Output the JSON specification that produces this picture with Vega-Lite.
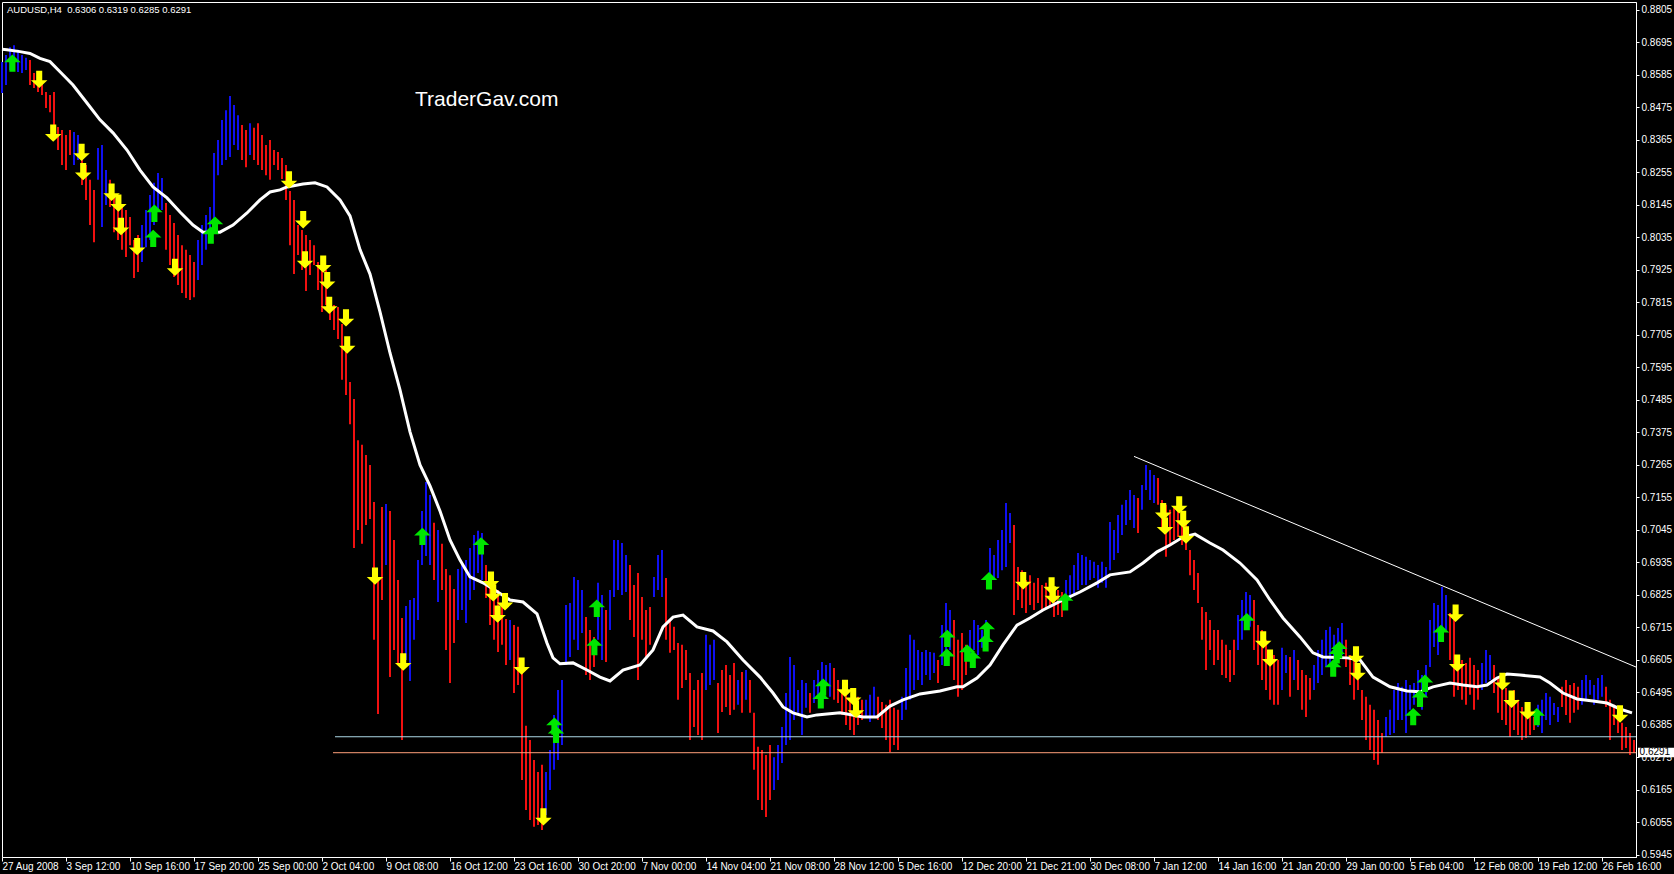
{
"$schema":"https://vega.github.io/schema/vega-lite/v6.json",
"width":1634,"height":855,
"autosize":{"type":"none"},
"padding":{"left":2,"top":2,"right":38,"bottom":17},
"background":"#000000",
"config":{"view":{"stroke":"#ffffff","strokeWidth":1},"axis":{"labelFont":"Liberation Sans","labelFontSize":10,"labelColor":"#ffffff","domainColor":"#ffffff","tickColor":"#ffffff","grid":false,"title":null,"labelOverlap":false,"labelFlush":false}},
"resolve":{"scale":{"color":"independent","shape":"independent"}},
"datasets":{
"bars":[
{"b":0,"hi":0.8629,"lo":0.8524,"t":"u"},{"b":1,"hi":0.8653,"lo":0.8551,"t":"u"},{"b":2,"hi":0.8679,"lo":0.8602,"t":"u"},{"b":3,"hi":0.8686,"lo":0.8609,"t":"u"},{"b":4,"hi":0.8670,"lo":0.8595,"t":"u"},{"b":5,"hi":0.8653,"lo":0.8592,"t":"u"},{"b":6,"hi":0.8643,"lo":0.8602,"t":"u"},{"b":7,"hi":0.8636,"lo":0.8551,"t":"d"},{"b":8,"hi":0.8592,"lo":0.8541,"t":"d"},{"b":9,"hi":0.8575,"lo":0.8527,"t":"d"},
{"b":10,"hi":0.8561,"lo":0.8517,"t":"d"},{"b":11,"hi":0.8527,"lo":0.8473,"t":"d"},{"b":12,"hi":0.8517,"lo":0.8459,"t":"d"},{"b":13,"hi":0.8527,"lo":0.8399,"t":"d"},{"b":14,"hi":0.8409,"lo":0.8331,"t":"d"},{"b":15,"hi":0.8399,"lo":0.8280,"t":"d"},{"b":16,"hi":0.8382,"lo":0.8263,"t":"d"},{"b":17,"hi":0.8399,"lo":0.8314,"t":"d"},{"b":18,"hi":0.8392,"lo":0.8280,"t":"u"},{"b":19,"hi":0.8382,"lo":0.8297,"t":"u"},
{"b":20,"hi":0.8314,"lo":0.8213,"t":"d"},{"b":21,"hi":0.8280,"lo":0.8162,"t":"d"},{"b":22,"hi":0.8230,"lo":0.8077,"t":"d"},{"b":23,"hi":0.8196,"lo":0.8019,"t":"d"},{"b":24,"hi":0.8338,"lo":0.8230,"t":"u"},{"b":25,"hi":0.8348,"lo":0.8070,"t":"u"},{"b":26,"hi":0.8263,"lo":0.8145,"t":"u"},{"b":27,"hi":0.8230,"lo":0.8138,"t":"d"},{"b":28,"hi":0.8172,"lo":0.8053,"t":"d"},{"b":29,"hi":0.8162,"lo":0.8026,"t":"d"},
{"b":30,"hi":0.8145,"lo":0.7993,"t":"d"},{"b":31,"hi":0.8128,"lo":0.7969,"t":"d"},{"b":32,"hi":0.8104,"lo":0.8009,"t":"d"},{"b":33,"hi":0.8026,"lo":0.7898,"t":"d"},{"b":34,"hi":0.8043,"lo":0.7918,"t":"d"},{"b":35,"hi":0.8077,"lo":0.7952,"t":"u"},{"b":36,"hi":0.8128,"lo":0.8002,"t":"u"},{"b":37,"hi":0.8179,"lo":0.8026,"t":"u"},{"b":38,"hi":0.8220,"lo":0.8077,"t":"u"},{"b":39,"hi":0.8253,"lo":0.8121,"t":"u"},
{"b":40,"hi":0.8236,"lo":0.8128,"t":"u"},{"b":41,"hi":0.8152,"lo":0.7993,"t":"d"},{"b":42,"hi":0.8111,"lo":0.7942,"t":"d"},{"b":43,"hi":0.8084,"lo":0.7901,"t":"d"},{"b":44,"hi":0.8043,"lo":0.7874,"t":"d"},{"b":45,"hi":0.8009,"lo":0.7847,"t":"d"},{"b":46,"hi":0.7993,"lo":0.7830,"t":"d"},{"b":47,"hi":0.7976,"lo":0.7823,"t":"d"},{"b":48,"hi":0.7952,"lo":0.7833,"t":"d"},{"b":49,"hi":0.8026,"lo":0.7891,"t":"u"},
{"b":50,"hi":0.8077,"lo":0.7942,"t":"u"},{"b":51,"hi":0.8111,"lo":0.7993,"t":"u"},{"b":52,"hi":0.8138,"lo":0.8026,"t":"u"},{"b":53,"hi":0.8321,"lo":0.8060,"t":"u"},{"b":54,"hi":0.8365,"lo":0.8246,"t":"u"},{"b":55,"hi":0.8433,"lo":0.8280,"t":"u"},{"b":56,"hi":0.8466,"lo":0.8297,"t":"u"},{"b":57,"hi":0.8514,"lo":0.8307,"t":"u"},{"b":58,"hi":0.8483,"lo":0.8348,"t":"u"},{"b":59,"hi":0.8449,"lo":0.8331,"t":"u"},
{"b":60,"hi":0.8416,"lo":0.8297,"t":"d"},{"b":61,"hi":0.8399,"lo":0.8273,"t":"d"},{"b":62,"hi":0.8422,"lo":0.8314,"t":"u"},{"b":63,"hi":0.8406,"lo":0.8297,"t":"d"},{"b":64,"hi":0.8422,"lo":0.8280,"t":"d"},{"b":65,"hi":0.8382,"lo":0.8263,"t":"d"},{"b":66,"hi":0.8348,"lo":0.8246,"t":"d"},{"b":67,"hi":0.8365,"lo":0.8230,"t":"d"},{"b":68,"hi":0.8331,"lo":0.8280,"t":"d"},{"b":69,"hi":0.8324,"lo":0.8263,"t":"d"},
{"b":70,"hi":0.8304,"lo":0.8233,"t":"d"},{"b":71,"hi":0.8280,"lo":0.8162,"t":"d"},{"b":72,"hi":0.8192,"lo":0.8009,"t":"d"},{"b":73,"hi":0.8162,"lo":0.7911,"t":"d"},{"b":74,"hi":0.8077,"lo":0.7976,"t":"d"},{"b":75,"hi":0.8060,"lo":0.7925,"t":"d"},{"b":76,"hi":0.8043,"lo":0.7854,"t":"d"},{"b":77,"hi":0.8026,"lo":0.7908,"t":"d"},{"b":78,"hi":0.8009,"lo":0.7942,"t":"d"},{"b":79,"hi":0.7952,"lo":0.7857,"t":"d"},
{"b":80,"hi":0.7942,"lo":0.7783,"t":"d"},{"b":81,"hi":0.7925,"lo":0.7806,"t":"d"},{"b":82,"hi":0.7813,"lo":0.7756,"t":"d"},{"b":83,"hi":0.7806,"lo":0.7722,"t":"d"},{"b":84,"hi":0.7800,"lo":0.7691,"t":"d"},{"b":85,"hi":0.7742,"lo":0.7553,"t":"d"},{"b":86,"hi":0.7688,"lo":0.7502,"t":"d"},{"b":87,"hi":0.7546,"lo":0.7403,"t":"d"},{"b":88,"hi":0.7488,"lo":0.6984,"t":"d"},{"b":89,"hi":0.7349,"lo":0.7045,"t":"d"},
{"b":90,"hi":0.7333,"lo":0.6998,"t":"d"},{"b":91,"hi":0.7299,"lo":0.7062,"t":"d"},{"b":92,"hi":0.7265,"lo":0.7082,"t":"d"},{"b":93,"hi":0.7140,"lo":0.6673,"t":"d"},{"b":94,"hi":0.6886,"lo":0.6422,"t":"d"},{"b":95,"hi":0.7123,"lo":0.6808,"t":"d"},{"b":96,"hi":0.7133,"lo":0.6926,"t":"u"},{"b":97,"hi":0.7109,"lo":0.6547,"t":"d"},{"b":98,"hi":0.7011,"lo":0.6639,"t":"d"},{"b":99,"hi":0.6876,"lo":0.6588,"t":"d"},
{"b":100,"hi":0.6747,"lo":0.6334,"t":"d"},{"b":101,"hi":0.6788,"lo":0.6605,"t":"u"},{"b":102,"hi":0.6808,"lo":0.6534,"t":"u"},{"b":103,"hi":0.6815,"lo":0.6673,"t":"u"},{"b":104,"hi":0.6943,"lo":0.6740,"t":"u"},{"b":105,"hi":0.7109,"lo":0.6926,"t":"u"},{"b":106,"hi":0.7207,"lo":0.6957,"t":"u"},{"b":107,"hi":0.7163,"lo":0.6926,"t":"u"},{"b":108,"hi":0.7069,"lo":0.6876,"t":"d"},{"b":109,"hi":0.7045,"lo":0.6801,"t":"u"},
{"b":110,"hi":0.6998,"lo":0.6842,"t":"d"},{"b":111,"hi":0.6913,"lo":0.6639,"t":"d"},{"b":112,"hi":0.6892,"lo":0.6527,"t":"d"},{"b":113,"hi":0.6845,"lo":0.6662,"t":"d"},{"b":114,"hi":0.6913,"lo":0.6740,"t":"u"},{"b":115,"hi":0.6926,"lo":0.6774,"t":"u"},{"b":116,"hi":0.6943,"lo":0.6730,"t":"u"},{"b":117,"hi":0.6984,"lo":0.6808,"t":"u"},{"b":118,"hi":0.7028,"lo":0.6842,"t":"u"},{"b":119,"hi":0.7042,"lo":0.6899,"t":"u"},
{"b":120,"hi":0.7035,"lo":0.6876,"t":"u"},{"b":121,"hi":0.6926,"lo":0.6815,"t":"d"},{"b":122,"hi":0.6892,"lo":0.6723,"t":"d"},{"b":123,"hi":0.6859,"lo":0.6673,"t":"d"},{"b":124,"hi":0.6842,"lo":0.6632,"t":"d"},{"b":125,"hi":0.6788,"lo":0.6656,"t":"d"},{"b":126,"hi":0.6744,"lo":0.6588,"t":"d"},{"b":127,"hi":0.6740,"lo":0.6605,"t":"u"},{"b":128,"hi":0.6723,"lo":0.6493,"t":"d"},{"b":129,"hi":0.6717,"lo":0.6520,"t":"d"},
{"b":130,"hi":0.6578,"lo":0.6199,"t":"d"},{"b":131,"hi":0.6382,"lo":0.6097,"t":"d"},{"b":132,"hi":0.6334,"lo":0.6063,"t":"d"},{"b":133,"hi":0.6266,"lo":0.6040,"t":"d"},{"b":134,"hi":0.6226,"lo":0.6046,"t":"d"},{"b":135,"hi":0.6250,"lo":0.6029,"t":"d"},{"b":136,"hi":0.6226,"lo":0.6080,"t":"u"},{"b":137,"hi":0.6300,"lo":0.6165,"t":"u"},{"b":138,"hi":0.6419,"lo":0.6233,"t":"u"},{"b":139,"hi":0.6503,"lo":0.6266,"t":"u"},
{"b":140,"hi":0.6537,"lo":0.6317,"t":"u"},{"b":141,"hi":0.6791,"lo":0.6588,"t":"u"},{"b":142,"hi":0.6798,"lo":0.6615,"t":"u"},{"b":143,"hi":0.6886,"lo":0.6673,"t":"u"},{"b":144,"hi":0.6876,"lo":0.6639,"t":"u"},{"b":145,"hi":0.6842,"lo":0.6696,"t":"u"},{"b":146,"hi":0.6750,"lo":0.6554,"t":"d"},{"b":147,"hi":0.6706,"lo":0.6537,"t":"d"},{"b":148,"hi":0.6683,"lo":0.6581,"t":"d"},{"b":149,"hi":0.6866,"lo":0.6673,"t":"u"},
{"b":150,"hi":0.6825,"lo":0.6605,"t":"u"},{"b":151,"hi":0.6774,"lo":0.6598,"t":"d"},{"b":152,"hi":0.6842,"lo":0.6706,"t":"u"},{"b":153,"hi":0.7011,"lo":0.6818,"t":"u"},{"b":154,"hi":0.7011,"lo":0.6842,"t":"u"},{"b":155,"hi":0.7001,"lo":0.6825,"t":"u"},{"b":156,"hi":0.6960,"lo":0.6835,"t":"u"},{"b":157,"hi":0.6926,"lo":0.6740,"t":"d"},{"b":158,"hi":0.6859,"lo":0.6683,"t":"d"},{"b":159,"hi":0.6899,"lo":0.6537,"t":"d"},
{"b":160,"hi":0.6818,"lo":0.6673,"t":"d"},{"b":161,"hi":0.6774,"lo":0.6615,"t":"d"},{"b":162,"hi":0.6784,"lo":0.6656,"t":"d"},{"b":163,"hi":0.6886,"lo":0.6818,"t":"u"},{"b":164,"hi":0.6960,"lo":0.6842,"t":"u"},{"b":165,"hi":0.6977,"lo":0.6818,"t":"u"},{"b":166,"hi":0.6882,"lo":0.6673,"t":"d"},{"b":167,"hi":0.6740,"lo":0.6629,"t":"d"},{"b":168,"hi":0.6717,"lo":0.6639,"t":"d"},{"b":169,"hi":0.6662,"lo":0.6470,"t":"d"},
{"b":170,"hi":0.6656,"lo":0.6510,"t":"d"},{"b":171,"hi":0.6639,"lo":0.6537,"t":"d"},{"b":172,"hi":0.6561,"lo":0.6334,"t":"d"},{"b":173,"hi":0.6503,"lo":0.6378,"t":"d"},{"b":174,"hi":0.6537,"lo":0.6351,"t":"d"},{"b":175,"hi":0.6561,"lo":0.6334,"t":"d"},{"b":176,"hi":0.6690,"lo":0.6503,"t":"u"},{"b":177,"hi":0.6656,"lo":0.6520,"t":"u"},{"b":178,"hi":0.6673,"lo":0.6537,"t":"u"},{"b":179,"hi":0.6527,"lo":0.6358,"t":"d"},
{"b":180,"hi":0.6571,"lo":0.6429,"t":"d"},{"b":181,"hi":0.6588,"lo":0.6446,"t":"d"},{"b":182,"hi":0.6554,"lo":0.6419,"t":"d"},{"b":183,"hi":0.6595,"lo":0.6436,"t":"d"},{"b":184,"hi":0.6537,"lo":0.6453,"t":"u"},{"b":185,"hi":0.6564,"lo":0.6426,"t":"d"},{"b":186,"hi":0.6571,"lo":0.6470,"t":"u"},{"b":187,"hi":0.6537,"lo":0.6426,"t":"d"},{"b":188,"hi":0.6426,"lo":0.6233,"t":"d"},{"b":189,"hi":0.6311,"lo":0.6131,"t":"d"},
{"b":190,"hi":0.6300,"lo":0.6097,"t":"d"},{"b":191,"hi":0.6283,"lo":0.6073,"t":"d"},{"b":192,"hi":0.6317,"lo":0.6131,"t":"d"},{"b":193,"hi":0.6276,"lo":0.6165,"t":"u"},{"b":194,"hi":0.6317,"lo":0.6199,"t":"u"},{"b":195,"hi":0.6378,"lo":0.6256,"t":"u"},{"b":196,"hi":0.6493,"lo":0.6317,"t":"u"},{"b":197,"hi":0.6615,"lo":0.6334,"t":"u"},{"b":198,"hi":0.6588,"lo":0.6402,"t":"u"},{"b":199,"hi":0.6503,"lo":0.6426,"t":"u"},
{"b":200,"hi":0.6537,"lo":0.6351,"t":"u"},{"b":201,"hi":0.6527,"lo":0.6443,"t":"u"},{"b":202,"hi":0.6493,"lo":0.6426,"t":"d"},{"b":203,"hi":0.6537,"lo":0.6459,"t":"u"},{"b":204,"hi":0.6571,"lo":0.6480,"t":"u"},{"b":205,"hi":0.6598,"lo":0.6503,"t":"u"},{"b":206,"hi":0.6588,"lo":0.6520,"t":"u"},{"b":207,"hi":0.6595,"lo":0.6480,"t":"u"},{"b":208,"hi":0.6578,"lo":0.6470,"t":"d"},{"b":209,"hi":0.6537,"lo":0.6459,"t":"d"},
{"b":210,"hi":0.6503,"lo":0.6419,"t":"d"},{"b":211,"hi":0.6487,"lo":0.6385,"t":"d"},{"b":212,"hi":0.6470,"lo":0.6368,"t":"d"},{"b":213,"hi":0.6459,"lo":0.6351,"t":"d"},{"b":214,"hi":0.6480,"lo":0.6385,"t":"d"},{"b":215,"hi":0.6470,"lo":0.6402,"t":"d"},{"b":216,"hi":0.6470,"lo":0.6409,"t":"u"},{"b":217,"hi":0.6487,"lo":0.6395,"t":"u"},{"b":218,"hi":0.6514,"lo":0.6409,"t":"u"},{"b":219,"hi":0.6480,"lo":0.6402,"t":"d"},
{"b":220,"hi":0.6463,"lo":0.6375,"t":"d"},{"b":221,"hi":0.6453,"lo":0.6334,"t":"d"},{"b":222,"hi":0.6470,"lo":0.6293,"t":"d"},{"b":223,"hi":0.6443,"lo":0.6317,"t":"d"},{"b":224,"hi":0.6436,"lo":0.6300,"t":"d"},{"b":225,"hi":0.6480,"lo":0.6402,"t":"u"},{"b":226,"hi":0.6578,"lo":0.6436,"t":"u"},{"b":227,"hi":0.6690,"lo":0.6470,"t":"u"},{"b":228,"hi":0.6673,"lo":0.6503,"t":"u"},{"b":229,"hi":0.6639,"lo":0.6537,"t":"u"},
{"b":230,"hi":0.6632,"lo":0.6520,"t":"u"},{"b":231,"hi":0.6639,"lo":0.6554,"t":"u"},{"b":232,"hi":0.6632,"lo":0.6537,"t":"u"},{"b":233,"hi":0.6629,"lo":0.6561,"t":"u"},{"b":234,"hi":0.6605,"lo":0.6527,"t":"d"},{"b":235,"hi":0.6723,"lo":0.6588,"t":"u"},{"b":236,"hi":0.6798,"lo":0.6622,"t":"u"},{"b":237,"hi":0.6774,"lo":0.6639,"t":"u"},{"b":238,"hi":0.6740,"lo":0.6537,"t":"d"},{"b":239,"hi":0.6673,"lo":0.6480,"t":"d"},
{"b":240,"hi":0.6696,"lo":0.6503,"t":"d"},{"b":241,"hi":0.6656,"lo":0.6554,"t":"d"},{"b":242,"hi":0.6706,"lo":0.6605,"t":"u"},{"b":243,"hi":0.6740,"lo":0.6639,"t":"u"},{"b":244,"hi":0.6723,"lo":0.6622,"t":"u"},{"b":245,"hi":0.6706,"lo":0.6646,"t":"u"},{"b":246,"hi":0.6740,"lo":0.6649,"t":"u"},{"b":247,"hi":0.6984,"lo":0.6852,"t":"u"},{"b":248,"hi":0.6960,"lo":0.6876,"t":"u"},{"b":249,"hi":0.7011,"lo":0.6882,"t":"u"},
{"b":250,"hi":0.7045,"lo":0.6909,"t":"u"},{"b":251,"hi":0.7136,"lo":0.6920,"t":"u"},{"b":252,"hi":0.7102,"lo":0.7001,"t":"u"},{"b":253,"hi":0.7062,"lo":0.6757,"t":"d"},{"b":254,"hi":0.6920,"lo":0.6808,"t":"d"},{"b":255,"hi":0.6909,"lo":0.6781,"t":"d"},{"b":256,"hi":0.6876,"lo":0.6764,"t":"d"},{"b":257,"hi":0.6892,"lo":0.6791,"t":"d"},{"b":258,"hi":0.6866,"lo":0.6774,"t":"d"},{"b":259,"hi":0.6882,"lo":0.6798,"t":"d"},
{"b":260,"hi":0.6859,"lo":0.6767,"t":"d"},{"b":261,"hi":0.6866,"lo":0.6781,"t":"d"},{"b":262,"hi":0.6842,"lo":0.6784,"t":"d"},{"b":263,"hi":0.6832,"lo":0.6750,"t":"d"},{"b":264,"hi":0.6842,"lo":0.6757,"t":"d"},{"b":265,"hi":0.6835,"lo":0.6750,"t":"d"},{"b":266,"hi":0.6876,"lo":0.6808,"t":"u"},{"b":267,"hi":0.6892,"lo":0.6815,"t":"u"},{"b":268,"hi":0.6926,"lo":0.6825,"t":"u"},{"b":269,"hi":0.6967,"lo":0.6842,"t":"u"},
{"b":270,"hi":0.6960,"lo":0.6859,"t":"u"},{"b":271,"hi":0.6954,"lo":0.6859,"t":"u"},{"b":272,"hi":0.6943,"lo":0.6876,"t":"u"},{"b":273,"hi":0.6937,"lo":0.6882,"t":"u"},{"b":274,"hi":0.6926,"lo":0.6849,"t":"u"},{"b":275,"hi":0.6937,"lo":0.6866,"t":"u"},{"b":276,"hi":0.6920,"lo":0.6849,"t":"u"},{"b":277,"hi":0.7072,"lo":0.6909,"t":"u"},{"b":278,"hi":0.7045,"lo":0.6943,"t":"u"},{"b":279,"hi":0.7096,"lo":0.6967,"t":"u"},
{"b":280,"hi":0.7130,"lo":0.7028,"t":"u"},{"b":281,"hi":0.7146,"lo":0.7062,"t":"u"},{"b":282,"hi":0.7180,"lo":0.7079,"t":"u"},{"b":283,"hi":0.7163,"lo":0.7052,"t":"u"},{"b":284,"hi":0.7153,"lo":0.7035,"t":"d"},{"b":285,"hi":0.7197,"lo":0.7113,"t":"u"},{"b":286,"hi":0.7265,"lo":0.7180,"t":"u"},{"b":287,"hi":0.7248,"lo":0.7146,"t":"u"},{"b":288,"hi":0.7231,"lo":0.7136,"t":"u"},{"b":289,"hi":0.7221,"lo":0.7130,"t":"d"},
{"b":290,"hi":0.7146,"lo":0.7045,"t":"d"},{"b":291,"hi":0.7130,"lo":0.6954,"t":"d"},{"b":292,"hi":0.7113,"lo":0.6994,"t":"d"},{"b":293,"hi":0.7123,"lo":0.7011,"t":"d"},{"b":294,"hi":0.7113,"lo":0.7021,"t":"d"},{"b":295,"hi":0.7096,"lo":0.6994,"t":"d"},{"b":296,"hi":0.7079,"lo":0.6977,"t":"d"},{"b":297,"hi":0.6977,"lo":0.6892,"t":"d"},{"b":298,"hi":0.6943,"lo":0.6842,"t":"d"},{"b":299,"hi":0.6899,"lo":0.6798,"t":"d"},
{"b":300,"hi":0.6784,"lo":0.6673,"t":"d"},{"b":301,"hi":0.6767,"lo":0.6571,"t":"d"},{"b":302,"hi":0.6740,"lo":0.6639,"t":"d"},{"b":303,"hi":0.6706,"lo":0.6588,"t":"d"},{"b":304,"hi":0.6706,"lo":0.6605,"t":"d"},{"b":305,"hi":0.6673,"lo":0.6554,"t":"d"},{"b":306,"hi":0.6656,"lo":0.6544,"t":"d"},{"b":307,"hi":0.6639,"lo":0.6530,"t":"d"},{"b":308,"hi":0.6673,"lo":0.6554,"t":"d"},{"b":309,"hi":0.6757,"lo":0.6639,"t":"u"},
{"b":310,"hi":0.6808,"lo":0.6673,"t":"u"},{"b":311,"hi":0.6835,"lo":0.6706,"t":"u"},{"b":312,"hi":0.6825,"lo":0.6717,"t":"u"},{"b":313,"hi":0.6808,"lo":0.6639,"t":"d"},{"b":314,"hi":0.6723,"lo":0.6588,"t":"d"},{"b":315,"hi":0.6706,"lo":0.6537,"t":"d"},{"b":316,"hi":0.6673,"lo":0.6503,"t":"d"},{"b":317,"hi":0.6639,"lo":0.6470,"t":"d"},{"b":318,"hi":0.6622,"lo":0.6453,"t":"d"},{"b":319,"hi":0.6605,"lo":0.6453,"t":"d"},
{"b":320,"hi":0.6646,"lo":0.6503,"t":"u"},{"b":321,"hi":0.6622,"lo":0.6561,"t":"u"},{"b":322,"hi":0.6615,"lo":0.6480,"t":"d"},{"b":323,"hi":0.6639,"lo":0.6537,"t":"u"},{"b":324,"hi":0.6605,"lo":0.6503,"t":"d"},{"b":325,"hi":0.6571,"lo":0.6436,"t":"d"},{"b":326,"hi":0.6554,"lo":0.6412,"t":"d"},{"b":327,"hi":0.6544,"lo":0.6470,"t":"d"},{"b":328,"hi":0.6588,"lo":0.6503,"t":"u"},{"b":329,"hi":0.6639,"lo":0.6527,"t":"u"},
{"b":330,"hi":0.6673,"lo":0.6554,"t":"u"},{"b":331,"hi":0.6706,"lo":0.6581,"t":"u"},{"b":332,"hi":0.6717,"lo":0.6588,"t":"u"},{"b":333,"hi":0.6690,"lo":0.6605,"t":"u"},{"b":334,"hi":0.6713,"lo":0.6612,"t":"u"},{"b":335,"hi":0.6730,"lo":0.6622,"t":"u"},{"b":336,"hi":0.6673,"lo":0.6581,"t":"d"},{"b":337,"hi":0.6622,"lo":0.6520,"t":"d"},{"b":338,"hi":0.6605,"lo":0.6470,"t":"d"},{"b":339,"hi":0.6581,"lo":0.6503,"t":"d"},
{"b":340,"hi":0.6503,"lo":0.6402,"t":"d"},{"b":341,"hi":0.6480,"lo":0.6334,"t":"d"},{"b":342,"hi":0.6453,"lo":0.6300,"t":"d"},{"b":343,"hi":0.6436,"lo":0.6266,"t":"d"},{"b":344,"hi":0.6402,"lo":0.6250,"t":"d"},{"b":345,"hi":0.6358,"lo":0.6290,"t":"d"},{"b":346,"hi":0.6412,"lo":0.6344,"t":"u"},{"b":347,"hi":0.6436,"lo":0.6351,"t":"u"},{"b":348,"hi":0.6503,"lo":0.6358,"t":"u"},{"b":349,"hi":0.6527,"lo":0.6402,"t":"u"},
{"b":350,"hi":0.6514,"lo":0.6402,"t":"u"},{"b":351,"hi":0.6537,"lo":0.6358,"t":"u"},{"b":352,"hi":0.6520,"lo":0.6436,"t":"u"},{"b":353,"hi":0.6527,"lo":0.6453,"t":"u"},{"b":354,"hi":0.6571,"lo":0.6470,"t":"u"},{"b":355,"hi":0.6554,"lo":0.6436,"t":"u"},{"b":356,"hi":0.6588,"lo":0.6480,"t":"u"},{"b":357,"hi":0.6740,"lo":0.6581,"t":"u"},{"b":358,"hi":0.6798,"lo":0.6649,"t":"u"},{"b":359,"hi":0.6791,"lo":0.6622,"t":"u"},
{"b":360,"hi":0.6852,"lo":0.6673,"t":"u"},{"b":361,"hi":0.6825,"lo":0.6706,"t":"u"},{"b":362,"hi":0.6764,"lo":0.6605,"t":"d"},{"b":363,"hi":0.6740,"lo":0.6480,"t":"d"},{"b":364,"hi":0.6615,"lo":0.6503,"t":"d"},{"b":365,"hi":0.6605,"lo":0.6470,"t":"d"},{"b":366,"hi":0.6595,"lo":0.6453,"t":"d"},{"b":367,"hi":0.6612,"lo":0.6487,"t":"d"},{"b":368,"hi":0.6588,"lo":0.6436,"t":"d"},{"b":369,"hi":0.6571,"lo":0.6470,"t":"d"},
{"b":370,"hi":0.6595,"lo":0.6503,"t":"u"},{"b":371,"hi":0.6639,"lo":0.6527,"t":"u"},{"b":372,"hi":0.6622,"lo":0.6537,"t":"u"},{"b":373,"hi":0.6588,"lo":0.6493,"t":"d"},{"b":374,"hi":0.6547,"lo":0.6426,"t":"d"},{"b":375,"hi":0.6527,"lo":0.6402,"t":"d"},{"b":376,"hi":0.6510,"lo":0.6385,"t":"d"},{"b":377,"hi":0.6493,"lo":0.6344,"t":"d"},{"b":378,"hi":0.6503,"lo":0.6368,"t":"d"},{"b":379,"hi":0.6470,"lo":0.6351,"t":"d"},
{"b":380,"hi":0.6446,"lo":0.6334,"t":"d"},{"b":381,"hi":0.6436,"lo":0.6341,"t":"d"},{"b":382,"hi":0.6429,"lo":0.6351,"t":"d"},{"b":383,"hi":0.6412,"lo":0.6368,"t":"d"},{"b":384,"hi":0.6453,"lo":0.6378,"t":"u"},{"b":385,"hi":0.6470,"lo":0.6358,"t":"u"},{"b":386,"hi":0.6493,"lo":0.6402,"t":"u"},{"b":387,"hi":0.6480,"lo":0.6385,"t":"u"},{"b":388,"hi":0.6459,"lo":0.6419,"t":"u"},{"b":389,"hi":0.6446,"lo":0.6395,"t":"u"},
{"b":390,"hi":0.6514,"lo":0.6446,"t":"d"},{"b":391,"hi":0.6537,"lo":0.6419,"t":"d"},{"b":392,"hi":0.6520,"lo":0.6392,"t":"d"},{"b":393,"hi":0.6527,"lo":0.6426,"t":"d"},{"b":394,"hi":0.6514,"lo":0.6436,"t":"d"},{"b":395,"hi":0.6537,"lo":0.6453,"t":"u"},{"b":396,"hi":0.6554,"lo":0.6470,"t":"u"},{"b":397,"hi":0.6537,"lo":0.6487,"t":"u"},{"b":398,"hi":0.6520,"lo":0.6453,"t":"u"},{"b":399,"hi":0.6544,"lo":0.6470,"t":"u"},
{"b":400,"hi":0.6554,"lo":0.6480,"t":"u"},{"b":401,"hi":0.6514,"lo":0.6446,"t":"d"},{"b":402,"hi":0.6470,"lo":0.6334,"t":"d"},{"b":403,"hi":0.6453,"lo":0.6385,"t":"d"},{"b":404,"hi":0.6426,"lo":0.6358,"t":"d"},{"b":405,"hi":0.6392,"lo":0.6300,"t":"d"},{"b":406,"hi":0.6378,"lo":0.6307,"t":"d"},{"b":407,"hi":0.6358,"lo":0.6283,"t":"d"},{"b":408,"hi":0.6334,"lo":0.6290,"t":"d"}
],
"ma":[
{"b":0,"p":0.8672},{"b":1.25,"p":0.8670},{"b":4.5,"p":0.8664},{"b":7,"p":0.8658},{"b":9.5,"p":0.8641},{"b":12,"p":0.8630},{"b":14.5,"p":0.8596},{"b":17.75,"p":0.8551},{"b":21.25,"p":0.8490},{"b":24.5,"p":0.8433},{"b":27.75,"p":0.8389},{"b":31.25,"p":0.8331},{"b":34.5,"p":0.8263},{"b":37.75,"p":0.8206},{"b":41.25,"p":0.8169},{"b":44.5,"p":0.8121},{"b":47.75,"p":0.8077},{"b":50.25,"p":0.8053},{"b":54.5,"p":0.8053},{"b":57.75,"p":0.8077},{"b":61.25,"p":0.8118},{"b":64.5,"p":0.8162},{"b":67,"p":0.8189},{"b":69.5,"p":0.8196},{"b":71.25,"p":0.8206},{"b":75.25,"p":0.8216},{"b":78.25,"p":0.8220},{"b":81.25,"p":0.8206},{"b":84.5,"p":0.8162},{"b":87,"p":0.8108},{"b":89.5,"p":0.7994},{"b":92,"p":0.7911},{"b":94.5,"p":0.7783},{"b":97,"p":0.7644},{"b":99.5,"p":0.7519},{"b":102,"p":0.7377},{"b":104.5,"p":0.7265},{"b":107,"p":0.7194},{"b":109.5,"p":0.7109},{"b":112,"p":0.7011},{"b":114.5,"p":0.6943},{"b":117,"p":0.6886},{"b":120.25,"p":0.6866},{"b":123.75,"p":0.6837},{"b":127,"p":0.6808},{"b":130.25,"p":0.6801},{"b":133.75,"p":0.6761},{"b":136.25,"p":0.6662},{"b":137.75,"p":0.6612},{"b":139.5,"p":0.6592},{"b":142.75,"p":0.6595},{"b":146.25,"p":0.6571},{"b":149.5,"p":0.6547},{"b":152,"p":0.6534},{"b":155.25,"p":0.6571},{"b":159.5,"p":0.6588},{"b":162.75,"p":0.6639},{"b":165.25,"p":0.6717},{"b":167.75,"p":0.6750},{"b":170.25,"p":0.6757},{"b":173.75,"p":0.6717},{"b":177.75,"p":0.6703},{"b":181.25,"p":0.6666},{"b":185.25,"p":0.6605},{"b":189.5,"p":0.6547},{"b":192.75,"p":0.6493},{"b":195.25,"p":0.6446},{"b":197.75,"p":0.6426},{"b":201.25,"p":0.6412},{"b":203.75,"p":0.6419},{"b":206.25,"p":0.6422},{"b":209.5,"p":0.6426},{"b":211.25,"p":0.6422},{"b":215.25,"p":0.6412},{"b":218.75,"p":0.6412},{"b":222,"p":0.6449},{"b":225.25,"p":0.6470},{"b":229.5,"p":0.6490},{"b":234.5,"p":0.6500},{"b":238.75,"p":0.6514},{"b":240.25,"p":0.6514},{"b":243.75,"p":0.6544},{"b":247,"p":0.6588},{"b":250.25,"p":0.6656},{"b":253.75,"p":0.6723},{"b":257,"p":0.6747},{"b":260.25,"p":0.6774},{"b":265.25,"p":0.6808},{"b":269.5,"p":0.6835},{"b":273.75,"p":0.6866},{"b":277,"p":0.6893},{"b":282,"p":0.6903},{"b":285.25,"p":0.6933},{"b":288.75,"p":0.6971},{"b":292,"p":0.6994},{"b":295.25,"p":0.7021},{"b":298.25,"p":0.7031},{"b":302,"p":0.7001},{"b":305.25,"p":0.6977},{"b":309.5,"p":0.6933},{"b":313.75,"p":0.6876},{"b":317,"p":0.6808},{"b":320.25,"p":0.6747},{"b":324.5,"p":0.6683},{"b":327.75,"p":0.6629},{"b":330.25,"p":0.6615},{"b":336.25,"p":0.6612},{"b":339.5,"p":0.6605},{"b":342.75,"p":0.6547},{"b":347,"p":0.6514},{"b":351.25,"p":0.6500},{"b":354.5,"p":0.6497},{"b":357.75,"p":0.6514},{"b":362,"p":0.6527},{"b":365.25,"p":0.6520},{"b":368.75,"p":0.6514},{"b":371.25,"p":0.6520},{"b":373.75,"p":0.6544},{"b":376.25,"p":0.6557},{"b":379.5,"p":0.6554},{"b":384.5,"p":0.6547},{"b":387,"p":0.6527},{"b":390.25,"p":0.6493},{"b":393.75,"p":0.6473},{"b":397.75,"p":0.6466},{"b":401.25,"p":0.6459},{"b":404.5,"p":0.6439},{"b":407.5,"p":0.6426}
],
"arrows":[
{"b":2.6,"p":0.8625,"k":"up"},{"b":38.1,"p":0.8117,"k":"up"},{"b":37.8,"p":0.8032,"k":"up"},{"b":53.25,"p":0.8077,"k":"up"},{"b":52.2,"p":0.8043,"k":"up"},{"b":105.1,"p":0.7023,"k":"up"},{"b":119.75,"p":0.6991,"k":"up"},{"b":138.1,"p":0.6381,"k":"up"},{"b":138.5,"p":0.6353,"k":"up"},{"b":148.7,"p":0.6780,"k":"up"},{"b":148.1,"p":0.6650,"k":"up"},{"b":205.3,"p":0.6513,"k":"up"},{"b":204.7,"p":0.6470,"k":"up"},{"b":236.3,"p":0.6678,"k":"up"},{"b":236.2,"p":0.6614,"k":"up"},{"b":241.3,"p":0.6628,"k":"up"},{"b":242.7,"p":0.6607,"k":"up"},{"b":246.2,"p":0.6706,"k":"up"},{"b":245.9,"p":0.6663,"k":"up"},{"b":246.75,"p":0.6873,"k":"up"},{"b":265.8,"p":0.6802,"k":"up"},{"b":311.2,"p":0.6735,"k":"up"},{"b":334.3,"p":0.6639,"k":"up"},{"b":333.7,"p":0.6622,"k":"up"},{"b":332.8,"p":0.6577,"k":"up"},{"b":359.75,"p":0.6695,"k":"up"},{"b":355.75,"p":0.6526,"k":"up"},{"b":354.5,"p":0.6475,"k":"up"},{"b":352.8,"p":0.6413,"k":"up"},{"b":383.7,"p":0.6413,"k":"up"},
{"b":9.3,"p":0.8570,"k":"down"},{"b":12.8,"p":0.8388,"k":"down"},{"b":19.9,"p":0.8323,"k":"down"},{"b":20.3,"p":0.8258,"k":"down"},{"b":27.4,"p":0.8188,"k":"down"},{"b":29.1,"p":0.8151,"k":"down"},{"b":29.75,"p":0.8072,"k":"down"},{"b":33.8,"p":0.8004,"k":"down"},{"b":43.25,"p":0.7934,"k":"down"},{"b":71.75,"p":0.8230,"k":"down"},{"b":75.3,"p":0.8095,"k":"down"},{"b":75.75,"p":0.7959,"k":"down"},{"b":80.3,"p":0.7945,"k":"down"},{"b":81.3,"p":0.7889,"k":"down"},{"b":81.8,"p":0.7805,"k":"down"},{"b":86,"p":0.7763,"k":"down"},{"b":86.3,"p":0.7671,"k":"down"},{"b":93.25,"p":0.6889,"k":"down"},{"b":100.3,"p":0.6598,"k":"down"},{"b":122.25,"p":0.6875,"k":"down"},{"b":122.8,"p":0.6832,"k":"down"},{"b":125.75,"p":0.6802,"k":"down"},{"b":123.9,"p":0.6760,"k":"down"},{"b":129.9,"p":0.6584,"k":"down"},{"b":135.35,"p":0.6074,"k":"down"},{"b":210.75,"p":0.6509,"k":"down"},{"b":212.8,"p":0.6481,"k":"down"},{"b":213.5,"p":0.6438,"k":"down"},{"b":255.3,"p":0.6873,"k":"down"},{"b":262.4,"p":0.6856,"k":"down"},{"b":262.7,"p":0.6825,"k":"down"},{"b":290.3,"p":0.7107,"k":"down"},{"b":290.75,"p":0.7058,"k":"down"},{"b":294.3,"p":0.7130,"k":"down"},{"b":295.3,"p":0.7081,"k":"down"},{"b":296,"p":0.7028,"k":"down"},{"b":315.3,"p":0.6673,"k":"down"},{"b":317,"p":0.6611,"k":"down"},{"b":338.5,"p":0.6622,"k":"down"},{"b":338.9,"p":0.6565,"k":"down"},{"b":363.4,"p":0.6763,"k":"down"},{"b":363.8,"p":0.6594,"k":"down"},{"b":375.1,"p":0.6532,"k":"down"},{"b":377.4,"p":0.6472,"k":"down"},{"b":381.4,"p":0.6433,"k":"down"},{"b":404.5,"p":0.6422,"k":"down"}
],
"trend":[{"b":283,"p":0.7294},{"b":408.5,"p":0.6581}],
"levels":[{"b":83.25,"b2":408.5,"p":0.6345,"name":"support"},{"b":82.75,"b2":408.5,"p":0.6291,"name":"bid"}],
"pricebox":[{"b":409,"b2":418,"p":0.6308,"p2":0.6276,"label":"0.6291","at":0.6292,"lb":409.4}],
"notes":[{"b":103.25,"p":0.8500,"text":"TraderGav.com"}],
"head":[{"b":1.25,"p":0.8805,"text":"AUDUSD,H4\u00a0 0.6306 0.6319 0.6285 0.6291"}]
},
"layer":[
{"data":{"name":"bars"},"mark":{"type":"rule","strokeWidth":2},
"encoding":{
"x":{"field":"b","type":"quantitative","scale":{"domain":[0,408.5],"nice":false,"zero":false},
"axis":{"orient":"bottom","tickCount":40,"values":[0,16,32,48,64,80,96,112,128,144,160,176,192,208,224,240,256,272,288,304,320,336,352,368,384,400],
"labelExpr":"['27 Aug 2008','3 Sep 12:00','10 Sep 16:00','17 Sep 20:00','25 Sep 00:00','2 Oct 04:00','9 Oct 08:00','16 Oct 12:00','23 Oct 16:00','30 Oct 20:00','7 Nov 00:00','14 Nov 04:00','21 Nov 08:00','28 Nov 12:00','5 Dec 16:00','12 Dec 20:00','21 Dec 21:00','30 Dec 08:00','7 Jan 12:00','14 Jan 16:00','21 Jan 20:00','29 Jan 00:00','5 Feb 04:00','12 Feb 08:00','19 Feb 12:00','26 Feb 16:00'][round(datum.value/16)]",
"labelAlign":"left","labelBaseline":"top","labelDx":1,"tickSize":4,"labelPadding":0,"labelOverlap":false,"labelFlush":false,"zindex":0}},
"y":{"field":"hi","type":"quantitative","scale":{"domain":[0.5938,0.8832],"nice":false,"zero":false},
"axis":{"orient":"right","tickCount":40,"values":[0.5945,0.6055,0.6165,0.6275,0.6385,0.6495,0.6605,0.6715,0.6825,0.6935,0.7045,0.7155,0.7265,0.7375,0.7485,0.7595,0.7705,0.7815,0.7925,0.8035,0.8145,0.8255,0.8365,0.8475,0.8585,0.8695,0.8805],"format":".4f","tickSize":3,"labelPadding":2,"labelBaseline":"middle","labelOverlap":false,"labelFlush":false,"zindex":0}},
"y2":{"field":"lo"},
"color":{"field":"t","type":"nominal","scale":{"domain":["d","u"],"range":["#f01010","#1010f0"]},"legend":null}}},
{"data":{"name":"levels"},"mark":{"type":"rule","strokeWidth":1},
"encoding":{"x":{"field":"b","type":"quantitative","scale":{"domain":[0,408.5],"nice":false,"zero":false}},"x2":{"field":"b2"},
"y":{"field":"p","type":"quantitative","scale":{"domain":[0.5938,0.8832],"nice":false,"zero":false}},
"color":{"field":"name","type":"nominal","scale":{"domain":["support","bid"],"range":["#add8e6","#ffa07a"]},"legend":null}}},
{"data":{"name":"ma"},"mark":{"type":"line","color":"#ffffff","strokeWidth":3},
"encoding":{"x":{"field":"b","type":"quantitative","scale":{"domain":[0,408.5],"nice":false,"zero":false}},
"y":{"field":"p","type":"quantitative","scale":{"domain":[0.5938,0.8832],"nice":false,"zero":false}}}},
{"data":{"name":"trend"},"mark":{"type":"line","color":"#ffffff","strokeWidth":1},
"encoding":{"x":{"field":"b","type":"quantitative","scale":{"domain":[0,408.5],"nice":false,"zero":false}},
"y":{"field":"p","type":"quantitative","scale":{"domain":[0.5938,0.8832],"nice":false,"zero":false}}}},
{"data":{"name":"arrows"},"mark":{"type":"point","filled":true,"size":300,"opacity":1},
"encoding":{"x":{"field":"b","type":"quantitative","scale":{"domain":[0,408.5],"nice":false,"zero":false}},
"y":{"field":"p","type":"quantitative","scale":{"domain":[0.5938,0.8832],"nice":false,"zero":false}},
"shape":{"field":"k","type":"nominal","scale":{"domain":["up","down"],"range":["M-0.35,1L0.35,1L0.35,-0.1L0.95,-0.1L0,-1L-0.95,-0.1L-0.35,-0.1Z","M-0.35,-1L0.35,-1L0.35,0.1L0.95,0.1L0,1L-0.95,0.1L-0.35,0.1Z"]},"legend":null},
"color":{"field":"k","type":"nominal","scale":{"domain":["up","down"],"range":["#00e600","#ffff00"]},"legend":null}}},
{"data":{"name":"notes"},"mark":{"type":"text","font":"Liberation Sans","fontSize":21,"color":"#ffffff","align":"left","baseline":"middle"},
"encoding":{"x":{"field":"b","type":"quantitative","scale":{"domain":[0,408.5],"nice":false,"zero":false}},
"y":{"field":"p","type":"quantitative","scale":{"domain":[0.5938,0.8832],"nice":false,"zero":false}},"text":{"field":"text"}}},
{"data":{"name":"head"},"mark":{"type":"text","font":"Liberation Sans","fontSize":9.5,"color":"#ffffff","align":"left","baseline":"middle"},
"encoding":{"x":{"field":"b","type":"quantitative","scale":{"domain":[0,408.5],"nice":false,"zero":false}},
"y":{"field":"p","type":"quantitative","scale":{"domain":[0.5938,0.8832],"nice":false,"zero":false}},"text":{"field":"text"}}},
{"data":{"name":"pricebox"},"mark":{"type":"rect","color":"#ffffff","clip":false},
"encoding":{"x":{"field":"b","type":"quantitative","scale":{"domain":[0,408.5],"nice":false,"zero":false}},"x2":{"field":"b2"},
"y":{"field":"p","type":"quantitative","scale":{"domain":[0.5938,0.8832],"nice":false,"zero":false}},"y2":{"field":"p2"}}},
{"data":{"name":"pricebox"},"mark":{"type":"text","font":"Liberation Sans","fontSize":10,"color":"#000000","align":"left","baseline":"middle","clip":false},
"encoding":{"x":{"field":"lb","type":"quantitative","scale":{"domain":[0,408.5],"nice":false,"zero":false}},
"y":{"field":"at","type":"quantitative","scale":{"domain":[0.5938,0.8832],"nice":false,"zero":false}},"text":{"field":"label"}}}
]
}
